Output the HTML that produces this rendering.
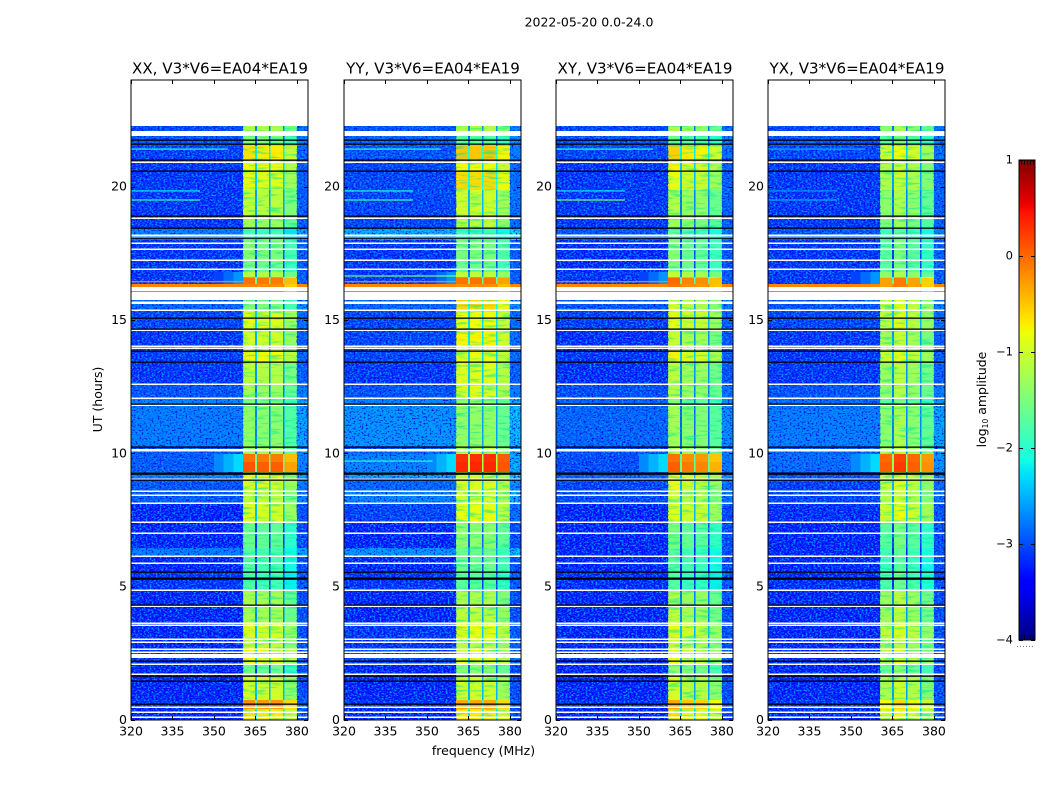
<!DOCTYPE html>
<html lang="en">
<head>
<meta charset="utf-8">
<title>2022-05-20 0.0-24.0</title>
<style>
html,body{margin:0;padding:0;background:#fff;width:1050px;height:800px;overflow:hidden}
svg{display:block}
text{font-family:"DejaVu Sans","Liberation Sans",sans-serif;fill:#000}
</style>
</head>
<body>
<svg id="figure" xmlns="http://www.w3.org/2000/svg" width="1050" height="800" viewBox="0 0 1050 800">
  <defs>
    <filter id="speckle-bright" x="0" y="0" width="100%" height="100%" color-interpolation-filters="sRGB">
      <feTurbulence type="fractalNoise" baseFrequency="0.5 0.62" numOctaves="2" seed="4"/>
      <feColorMatrix type="matrix" values="0 0 0 0 0  0 0 0 0 0.58  0 0 0 0 1  5 0 0 0 -2.3"/>
    </filter>
    <filter id="speckle-dark" x="0" y="0" width="100%" height="100%" color-interpolation-filters="sRGB">
      <feTurbulence type="fractalNoise" baseFrequency="0.5 0.6" numOctaves="2" seed="11"/>
      <feColorMatrix type="matrix" values="0 0 0 0 0  0 0 0 0 0  0 0 0 0 0.95  4 0 0 0 -2.1"/>
    </filter>
    <filter id="inband-texture" x="0" y="0" width="100%" height="100%" color-interpolation-filters="sRGB">
      <feTurbulence type="fractalNoise" baseFrequency="0.06 0.4" numOctaves="2" seed="7"/>
      <feColorMatrix type="matrix" values="0 0 0 0 0  0 0 0 0 0.9  0 0 0 0 0.6  4 0 0 0 -2"/>
    </filter>
  </defs>
  <rect x="0" y="0" width="1050" height="800" fill="#fff"/>
  <text x="589" y="26.5" font-size="12.5" text-anchor="middle">2022-05-20 0.0-24.0</text>
  <text x="102" y="399.5" font-size="12.5" text-anchor="middle" transform="rotate(-90 102 399.5)">UT (hours)</text>
  <text x="483.5" y="755" font-size="12.5" text-anchor="middle">frequency (MHz)</text>
  <text x="986" y="399.5" font-size="12.5" text-anchor="middle" transform="rotate(-90 986 399.5)">log<tspan font-size="7.5" dy="2">10</tspan><tspan dy="-2"> amplitude</tspan></text>
  <g id="panels"></g>
  <g id="colorbar"></g>
</svg>
<script>
// ---------- chart data ----------
const panelTitles = ["XX, V3*V6=EA04*EA19", "YY, V3*V6=EA04*EA19", "XY, V3*V6=EA04*EA19", "YX, V3*V6=EA04*EA19"];
const panelKeys = ["xx", "yy", "xy", "yx"];
const freqTicks = [320, 335, 350, 365, 380];
const utTicks = [0, 5, 10, 15, 20];
const colorbarTicks = [1, 0, -1, -2, -3, -4];
const colorbarLabels = ["1", "0", "\u22121", "\u22122", "\u22123", "\u22124"];

// UT band edges (hours), top of the data down to 0
const bandEdges = [22.275,21.9,21.525,21,20.55,19.875,18.94,18.45,18,17.175,16.8,16.35,16.05,15.75,15.375,14.625,13.8,13.425,12.6,12.075,11.85,10.275,9.975,9.675,9.3,9.075,8.625,8.14,7.425,6.45,6.15,5.55,4.875,4.31,3.675,3,2.7,2.1,1.65,0.75,0.525,0];

// log10 amplitude inside the 360.5-380 MHz band, one value per UT band
const xxInBand = [-1.2,-1.5,-0.7,-0.85,-0.9,-1.1,-1.3,-1.9,-1.5,-1.6,-0.3,-0.2,-1.5,-1.5,-0.9,-1,-0.8,-1.15,-1.3,-1.5,-1.4,-1.3,-0.1,0.05,-0.9,-0.95,-1.1,-0.95,-1.65,-1.8,-1.8,-1.85,-1.25,-1.25,-0.95,-1.1,-0.8,-1.6,-1,-0.2,-0.7];
const yyInBand = [-1.15,-1.7,-0.5,-0.8,-0.6,-1,-1.1,-1.9,-1.5,-1.6,-0.2,-0.2,-0.9,-0.6,-0.8,-0.75,-0.85,-0.9,-0.9,-1.4,-1.35,-1.1,0.3,0.35,-1,-0.9,-1,-0.85,-1.4,-1.6,-1.6,-1.7,-1.2,-1.1,-0.85,-1.1,-0.9,-1.4,-1,-0.3,-0.7];
const xyInBand = [-1.3,-1.7,-0.7,-0.9,-1,-1.3,-1.4,-1.8,-1.6,-1.6,-0.4,-0.2,-1.5,-1.1,-1,-1.2,-0.9,-1.25,-1.3,-1.6,-1.4,-1.3,-0.2,-0.1,-0.9,-1,-1.15,-1,-1.65,-1.85,-1.85,-1.9,-1.3,-1.25,-1,-1.2,-1,-1.5,-1.1,-0.5,-0.8];
const yxInBand = [-1.3,-1.6,-0.9,-1.1,-1.1,-1.3,-1.4,-1.8,-1.6,-1.6,-0.45,-0.2,-1.4,-1,-1,-1.15,-0.95,-1.2,-1.25,-1.6,-1.3,-1.2,0.1,0.15,-0.95,-1,-1.1,-0.9,-1.6,-1.75,-1.8,-1.7,-1.2,-1.2,-1,-1.2,-1,-1.5,-1.1,-0.7,-0.9];

// log10 amplitude outside the band, one value per UT band
const xxOffBand = [-3.1,-3,-3.15,-3.2,-3.2,-3.2,-3.2,-2.75,-3.2,-3.2,-3.2,-0.15,-3,-2.9,-3.1,-3.2,-3.15,-3.2,-3,-2.7,-2.75,-3,-2.95,-2.95,-2.7,-3,-2.95,-3.3,-3.3,-2.75,-3.3,-3.2,-3.3,-3.3,-3.3,-3.3,-3.2,-3.3,-3.3,-3.2,-3.3];
const yyOffBand = [-3,-2.9,-3,-3.1,-3.1,-3.1,-3.1,-2.45,-3.2,-3.2,-3.2,-0.15,-3,-2.9,-3.1,-3.1,-3.1,-3.2,-3,-2.7,-2.6,-2.9,-2.7,-2.7,-2.5,-2.9,-2.7,-3.1,-3.3,-2.6,-3.3,-3.2,-3.3,-3.3,-3.2,-3.2,-3.1,-3.3,-3.3,-3.2,-3.3];
const xyOffBand = [-3.1,-3,-3.1,-3.2,-3.2,-3.2,-3.2,-3,-3.25,-3.25,-3.2,-0.15,-3,-3,-3.15,-3.25,-3.2,-3.25,-3.05,-2.9,-2.9,-3,-3.05,-3.05,-2.9,-3.1,-3.05,-3.3,-3.3,-3.3,-3.3,-3.25,-3.3,-3.3,-3.3,-3.3,-3.25,-3.3,-3.3,-3.2,-3.3];
const yxOffBand = [-3.1,-3,-3.1,-3.2,-3.2,-3.2,-3.2,-3,-3.2,-3.2,-3.2,-0.15,-3,-3,-3.1,-3.2,-3.2,-3.2,-3,-2.85,-2.75,-2.9,-2.85,-2.85,-3,-3.15,-3.1,-3.25,-3.3,-3.3,-3.3,-3.25,-3.3,-3.3,-3.3,-3.3,-3.25,-3.3,-3.3,-3.2,-3.3];

// spectral windows (MHz) and per-window level offsets for each correlation
const subbandStart = [360.5, 365.5, 370.5, 375.5];
const subbandEnd = [364.9, 369.9, 374.9, 380];
const xxSubbandOffset = [0.05, 0, 0, -0.35];
const yySubbandOffset = [0, 0, 0, -0.25];
const xySubbandOffset = [0.15, 0, -0.05, -0.3];
const yxSubbandOffset = [-0.1, 0.1, -0.1, -0.35];
const windowGapDrop = 1.5;
const tailRise = 0.25;

// in-band sub-structure inside a UT band: UT range, then level per correlation
const patchStartUT = [16.8, 16.58, 0.75];
const patchEndUT = [16.61, 16.35, 0.41];
const xxPatch = [-1.2, -0.1, -0.25];
const yyPatch = [-1.1, -0.05, -0.35];
const xyPatch = [-1.2, -0.15, -0.5];
const yxPatch = [-1.3, -0.2, -0.7];

// brightening just below the band edge: UT range and level
const shoulderStartUT = [16.8, 9.975];
const shoulderEndUT = [16.35, 9.3];
const shoulderLevel = [-2.65, -2.3];

// narrow-band interference streaks below the band
const streakUT = [21.41, 19.84, 19.5, 16.65, 16.44, 9.71];
const streakEndMHz = [355, 345, 345, 360.5, 360.5, 352];
const xxStreaks = [-2, -2.2, -1.9, null, -0.2, null];
const yyStreaks = [-2, -2, -1.9, -1.5, -0.2, -2];
const xyStreaks = [-2, -2.2, -1.5, null, -0.2, null];
const yxStreaks = [-2.5, -2.6, -2.5, null, null, null];

// flagged (white) integrations, UT hours
const flaggedStartUT = [22.09, 16.23, 16.05, 10.16, 2.475];
const flaggedEndUT = [21.9, 16.09, 15.75, 10.06, 2.325];
const flaggedLinesUT = [20.94,18.81,18.19,18.13,17.89,17.66,17.25,16.91,15.69,15.62,15.38,14.63,14.04,13.94,12.59,12.06,11.8,9.05,8.6,8.42,8.15,7.43,7,6.15,5.88,4.86,4.28,3.65,3.56,3.03,2.93,2.67,2.56,2.09,1.73,0.48,0.29,0.11];
// zero-amplitude (black) integrations, UT hours
const zeroLinesUT = [21.74,21.59,20.99,20.59,18.91,18.46,18.06,15.09,14.66,13.84,13.44,11.84,10.25,9.27,9.24,8.99,5.56,5.31,5.28,4.31,2.22,1.65,1.45,0.59];

const inBandByPanel = {xx: xxInBand, yy: yyInBand, xy: xyInBand, yx: yxInBand};
const offBandByPanel = {xx: xxOffBand, yy: yyOffBand, xy: xyOffBand, yx: yxOffBand};
const subOffsetByPanel = {xx: xxSubbandOffset, yy: yySubbandOffset, xy: xySubbandOffset, yx: yxSubbandOffset};
const streaksByPanel = {xx: xxStreaks, yy: yyStreaks, xy: xyStreaks, yx: yxStreaks};
const patchByPanel = {xx: xxPatch, yy: yyPatch, xy: xyPatch, yx: yxPatch};

// ---------- layout ----------
const panelLeft = [131, 344, 556, 768];
const panelWidth = 177, plotTop = 80, plotBottom = 720;
const FREQ_MIN = 320, FREQ_MAX = 384, UT_MIN = 0, UT_MAX = 24, C_MIN = -4, C_MAX = 1;
const cbLeft = 1019, cbRight = 1035, cbTop = 160, cbBottom = 640;
const NS = "http://www.w3.org/2000/svg";

function yScale(ut) { return plotBottom - (ut - UT_MIN) / (UT_MAX - UT_MIN) * (plotBottom - plotTop); }
function xScale(left, f) { return left + (f - FREQ_MIN) / (FREQ_MAX - FREQ_MIN) * panelWidth; }
function cbScale(v) { return cbBottom - (v - C_MIN) / (C_MAX - C_MIN) * (cbBottom - cbTop); }

function interp(pts, t) {
  for (let i = 1; i < pts.length; i++) {
    if (t <= pts[i][0]) {
      const a = pts[i - 1], b = pts[i];
      return a[1] + (b[1] - a[1]) * (t - a[0]) / (b[0] - a[0]);
    }
  }
  return pts[pts.length - 1][1];
}
const jetR = [[0,0],[0.35,0],[0.66,1],[0.89,1],[1,0.5]];
const jetG = [[0,0],[0.125,0],[0.375,1],[0.64,1],[0.91,0],[1,0]];
const jetB = [[0,0.5],[0.11,1],[0.34,1],[0.65,0],[1,0]];
function jet(level) {
  const t = Math.max(0, Math.min(1, (level - C_MIN) / (C_MAX - C_MIN)));
  return "rgb(" + Math.round(255 * interp(jetR, t)) + "," + Math.round(255 * interp(jetG, t)) + "," + Math.round(255 * interp(jetB, t)) + ")";
}
function make(tag, attrs, parent) {
  const el = document.createElementNS(NS, tag);
  for (const k in attrs) el.setAttribute(k, attrs[k]);
  parent.appendChild(el);
  return el;
}
function cell(parent, left, f0, f1, ut0, ut1, level) {
  const x0 = xScale(left, f0), x1 = xScale(left, f1), y0 = yScale(ut0), y1 = yScale(ut1);
  const el = make("rect", {x: x0, y: y0, width: x1 - x0, height: y1 - y0, fill: jet(level), "shape-rendering": "crispEdges"}, parent);
  
  
}
function inBandRow(parent, left, subOff, offLevel, level, top, bot) {
  for (let s = 0; s < subbandStart.length; s++) {
    cell(parent, left, subbandStart[s], subbandEnd[s], top, bot, level + subOff[s]);
    if (s < subbandStart.length - 1) {
      cell(parent, left, subbandEnd[s], subbandStart[s + 1], top, bot, Math.max(offLevel, level - windowGapDrop));
    }
  }
}

// ---------- panels ----------
const panelsRoot = document.getElementById("panels");
panelKeys.forEach(function (key, p) {
  const left = panelLeft[p];
  const g = make("g", {}, panelsRoot);
  
  

  const inB = inBandByPanel[key], offB = offBandByPanel[key], subOff = subOffsetByPanel[key], streaks = streaksByPanel[key], patch = patchByPanel[key];
  const cells = make("g", {}, g);
  
  

  for (let b = 0; b < bandEdges.length - 1; b++) {
    const top = bandEdges[b], bot = bandEdges[b + 1];
    cell(cells, left, FREQ_MIN, subbandStart[0], top, bot, offB[b]);
    inBandRow(cells, left, subOff, offB[b], inB[b], top, bot);
    cell(cells, left, subbandEnd[3], FREQ_MAX, top, bot, offB[b] + tailRise);
  }

  // texture over the noise-dominated channels
  [[FREQ_MIN, subbandStart[0]], [subbandEnd[3], FREQ_MAX]].forEach(function (span) {
    ["speckle-bright", "speckle-dark"].forEach(function (f) {
      const x0 = xScale(left, span[0]), x1 = xScale(left, span[1]);
      const sp = make("rect", {x: x0, y: yScale(bandEdges[0]), width: x1 - x0, height: yScale(0) - yScale(bandEdges[0]), filter: "url(#" + f + ")"}, g);
      
      
    });
  });
  // horizontal banding across the spectral windows
  const bx0 = xScale(left, subbandStart[0]), bx1 = xScale(left, subbandEnd[3]);
  const bt = make("rect", {x: bx0, y: yScale(bandEdges[0]), width: bx1 - bx0, height: yScale(0) - yScale(bandEdges[0]), filter: "url(#inband-texture)", opacity: 0.55}, g);
  
  

  // cells that sit well above the noise floor stay clean
  const clean = make("g", {}, g);
  
  
  for (let b = 0; b < bandEdges.length - 1; b++) {
    if (offB[b] > -1) {
      cell(clean, left, FREQ_MIN, subbandStart[0], bandEdges[b], bandEdges[b + 1], offB[b]);
      cell(clean, left, subbandEnd[3], FREQ_MAX, bandEdges[b], bandEdges[b + 1], offB[b]);
    }
    if (inB[b] > -0.3) {
      inBandRow(clean, left, subOff, offB[b], inB[b], bandEdges[b], bandEdges[b + 1]);
    }
  }
  patch.forEach(function (lvl, i) {
    inBandRow(clean, left, subOff, -3.2, lvl, patchStartUT[i], patchEndUT[i]);
  });
  shoulderLevel.forEach(function (lvl, i) {
    cell(clean, left, 350, 353.5, shoulderStartUT[i], shoulderEndUT[i], lvl - 0.4);
    cell(clean, left, 353.5, 357, shoulderStartUT[i], shoulderEndUT[i], lvl - 0.2);
    cell(clean, left, 357, subbandStart[0], shoulderStartUT[i], shoulderEndUT[i], lvl);
  });

  streakUT.forEach(function (ut, i) {
    if (streaks[i] === null) return;
    const x0 = xScale(left, FREQ_MIN), x1 = xScale(left, streakEndMHz[i]);
    const st = make("rect", {x: x0, y: yScale(ut) - 0.7, width: x1 - x0, height: 1.4, fill: jet(streaks[i]), opacity: 0.85}, g);
    
    
  });

  const x0 = xScale(left, FREQ_MIN), x1 = xScale(left, FREQ_MAX);
  flaggedStartUT.forEach(function (ut, i) {
    const fl = make("rect", {x: x0, y: yScale(ut), width: x1 - x0, height: yScale(flaggedEndUT[i]) - yScale(ut), fill: "#fff", "shape-rendering": "crispEdges"}, g);
    
    
  });
  flaggedLinesUT.forEach(function (ut) {
    const fl = make("rect", {x: x0, y: Math.round(yScale(ut)) - 0.5, width: x1 - x0, height: 1.5, fill: "#fff"}, g);
    
    
  });
  zeroLinesUT.forEach(function (ut) {
    const zl = make("rect", {x: x0, y: Math.round(yScale(ut)) - 0.5, width: x1 - x0, height: 1.3, fill: "#000"}, g);
    
    
  });

  // frame
  const frame = make("rect", {x: left, y: plotTop, width: panelWidth, height: plotBottom - plotTop, fill: "none", stroke: "#000", "stroke-width": 1}, g);
  
  

  // x ticks and labels
  freqTicks.forEach(function (f) {
    const x = Math.round(xScale(left, f)) + 0.5;
    const t1 = make("line", {x1: x, x2: x, y1: plotBottom, y2: plotBottom - 4, stroke: "#000", "stroke-width": 1}, g);
    
    
    const t2 = make("line", {x1: x, x2: x, y1: plotTop, y2: plotTop + 4, stroke: "#000", "stroke-width": 1}, g);
    
    
    const lb = make("text", {x: xScale(left, f), y: 735.5, "font-size": 12.5, "text-anchor": "middle"}, g);
    lb.textContent = String(f);
    
    
  });

  // y ticks and labels
  utTicks.forEach(function (u) {
    const y = Math.round(yScale(u)) + 0.5;
    const t1 = make("line", {x1: left, x2: left + 4, y1: y, y2: y, stroke: "#000", "stroke-width": 1}, g);
    
    
    const t2 = make("line", {x1: left + panelWidth, x2: left + panelWidth - 4, y1: y, y2: y, stroke: "#000", "stroke-width": 1}, g);
    
    
    const lb = make("text", {x: left - 4, y: yScale(u) + 4, "font-size": 12.5, "text-anchor": "end"}, g);
    lb.textContent = String(u);
    
    
  });

  const title = make("text", {x: left + panelWidth / 2 + 0.5, y: 73.5, "font-size": 15.1, "text-anchor": "middle"}, g);
  title.textContent = panelTitles[p];
  
  
});

// ---------- colorbar ----------
const cb = document.getElementById("colorbar");
for (let y = cbTop; y < cbBottom; y++) {
  const v = C_MIN + (cbBottom - y - 0.5) / (cbBottom - cbTop) * (C_MAX - C_MIN);
  const sw = make("rect", {x: cbLeft, y: y, width: cbRight - cbLeft, height: 1, fill: jet(v), "shape-rendering": "crispEdges"}, cb);
  
  
}
const cbFrame = make("rect", {x: cbLeft, y: cbTop, width: cbRight - cbLeft, height: cbBottom - cbTop, fill: "none", stroke: "#000", "stroke-width": 1}, cb);


colorbarTicks.forEach(function (v, i) {
  const y = Math.round(cbScale(v)) + 0.5;
  const t1 = make("line", {x1: cbLeft, x2: cbLeft + 4, y1: y, y2: y, stroke: "#000", "stroke-width": 1}, cb);
  
  
  const t2 = make("line", {x1: cbRight, x2: cbRight - 4, y1: y, y2: y, stroke: "#000", "stroke-width": 1}, cb);
  
  
  const lb = make("text", {x: 1013, y: cbScale(v) + 3.5, "font-size": 11.5, "text-anchor": "end"}, cb);
  lb.textContent = colorbarLabels[i];
  
  
});
for (let x = cbLeft + 2.5; x < cbRight - 1; x += 3) {
  const capTop = make("line", {x1: x, x2: x, y1: cbTop, y2: cbTop + 5, stroke: "#000", "stroke-width": 0.8}, cb);
  
  
  const capBot = make("line", {x1: x, x2: x, y1: cbBottom, y2: cbBottom - 5, stroke: "#000", "stroke-width": 0.8}, cb);
  
  
}
const cbDots = make("line", {x1: 1017, x2: 1035, y1: 646.5, y2: 646.5, stroke: "#777", "stroke-width": 1, "stroke-dasharray": "1 2"}, cb);


</script>
</body>
</html>
